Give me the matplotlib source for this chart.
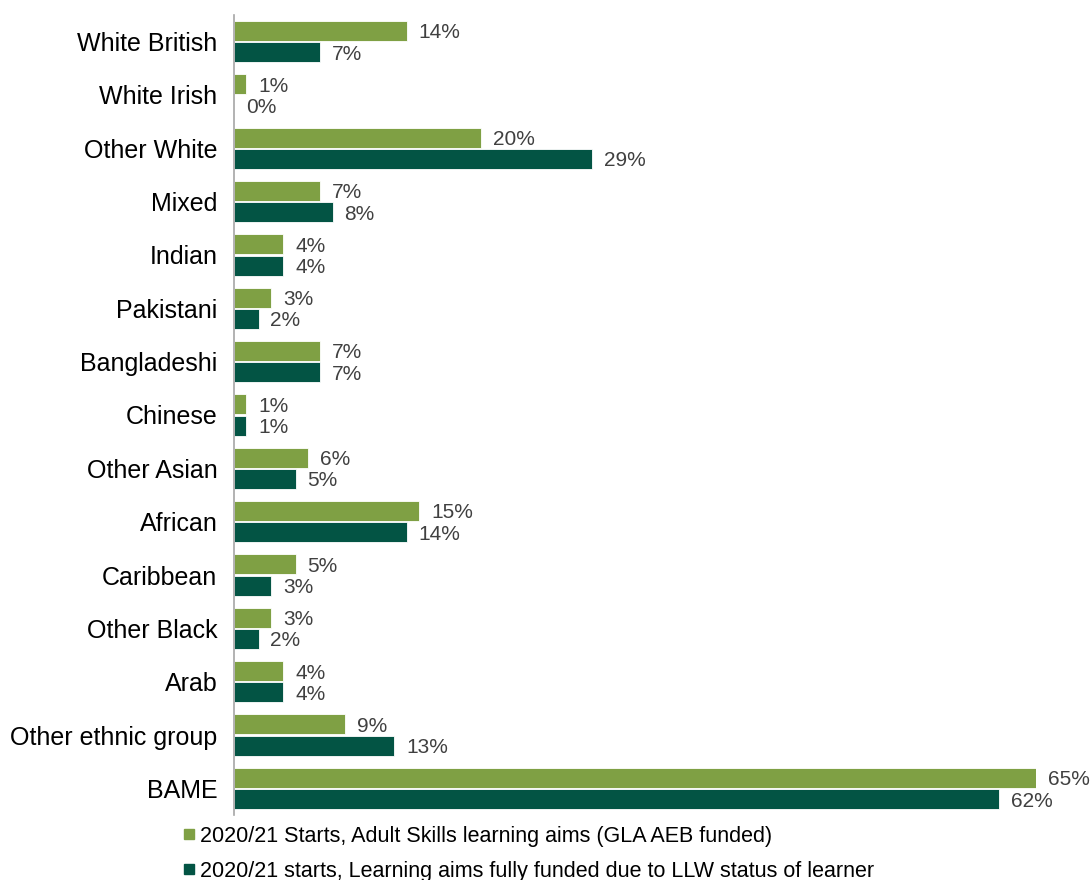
import numpy as np
import matplotlib as mpl
mpl.use("Agg")
import matplotlib.pyplot as plt
from matplotlib.lines import Line2D

plt.rcParams['font.family'] = ['Liberation Sans', 'DejaVu Sans']

groups = ["White British", "White Irish", "Other White", "Mixed", "Indian", "Pakistani",
          "Bangladeshi", "Chinese", "Other Asian", "African", "Caribbean", "Other Black",
          "Arab", "Other ethnic group", "BAME"]
aeb_funded = [14, 1, 20, 7, 4, 3, 7, 1, 6, 15, 5, 3, 4, 9, 65]
llw_funded = [7, 0, 29, 8, 4, 2, 7, 1, 5, 14, 3, 2, 4, 13, 62]
series_names = ["2020/21 Starts, Adult Skills learning aims (GLA AEB funded)",
                "2020/21 starts, Learning aims fully funded due to LLW status of learner"]

light = '#7fa044'
dark = '#035444'

fig = plt.figure(figsize=(10.92, 8.8), dpi=100)
ax = fig.add_axes([234/1092, 1-815/880, (1036-234)/1092, 800/880])

y = np.arange(len(groups))
h = 0.38
off = 0.2
b1 = ax.barh(y - off, aeb_funded, height=h, color=light, edgecolor='white', linewidth=0.6)
b2 = ax.barh(y + off, llw_funded, height=h, color=dark, edgecolor='white', linewidth=0.6)

# percentage labels just past the end of each bar
for bars, vals in ((b1, aeb_funded), (b2, llw_funded)):
    for rect, v in zip(bars, vals):
        ax.annotate('%d%%' % v, (v, rect.get_y() + rect.get_height()/2),
                    xytext=(8.5, 0), textcoords='offset points', va='center_baseline', ha='left',
                    fontsize=15, color='#404040', annotation_clip=False)

ax.set_xlim(0, 65)
ax.set_ylim(len(groups) - 0.5, -0.5)
ax.set_yticks(y)
ax.set_yticklabels(groups, fontsize=18)
ax.set_xticks([])
ax.tick_params(axis='y', length=0, pad=12)
for s in ('top', 'right', 'bottom'):
    ax.spines[s].set_visible(False)
ax.spines['left'].set_color('#a6a6a6')
ax.spines['left'].set_linewidth(1.2)

handles = [Line2D([], [], marker='s', linestyle='none', markersize=7, color=c) for c in (light, dark)]
fig.legend(handles, series_names, loc='lower left', bbox_to_anchor=(172/1092, -0.012),
           frameon=False, fontsize=15.5, handletextpad=0.1, handlelength=0.8,
           labelspacing=0.65, borderaxespad=0)

plt.savefig('out.png', dpi=100)
